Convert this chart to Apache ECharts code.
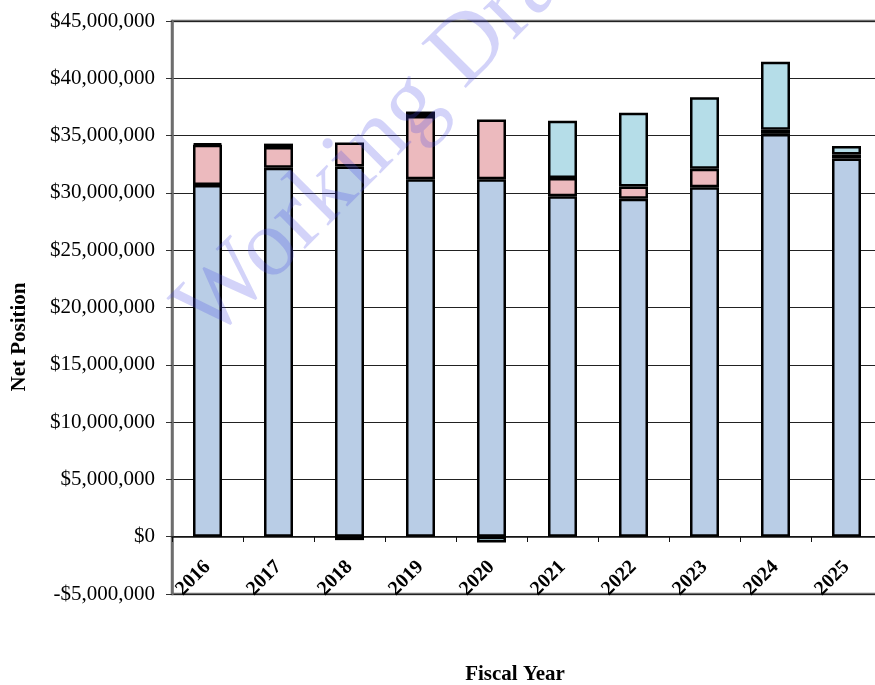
<!DOCTYPE html>
<html>
<head>
<meta charset="utf-8">
<title>Net Position by Fiscal Year</title>
<script src="https://cdn.jsdelivr.net/npm/echarts@6/dist/echarts.min.js"></script>
<style>
  html, body { margin: 0; padding: 0; background: #fff; }
  #chart { width: 875px; height: 685px; }
</style>
</head>
<body>
<div id="chart"></div>
<script>
// 数据
const years = ['2016', '2017', '2018', '2019', '2020', '2021', '2022', '2023', '2024', '2025'];
const capitalAssets = [30700000, 32200000, 32300000, 31200000, 31200000, 29700000, 29500000, 30500000, 35150000, 33000000];
const restricted    = [3500000, 1800000, 2100000, 5500000, 5200000, 1600000, 1050000, 1600000, 350000, 350000];
const unrestricted  = [100000, 300000, -300000, 400000, -500000, 5000000, 6450000, 6250000, 5950000, 750000];

const fontFamily = '"Liberation Serif", "Times New Roman", serif';

function money(v) {
    const s = Math.abs(v).toLocaleString('en-US');
    return v < 0 ? '-$' + s : '$' + s;
}

const chart = echarts.init(document.getElementById('chart'));

const segStyle = color => ({
    color: color,
    borderColor: '#000',
    borderWidth: 2.5
});

const titleStyle = {
    fontFamily: fontFamily,
    fontSize: 21,
    fontWeight: 'bold',
    fill: '#000',
    align: 'center',
    verticalAlign: 'middle'
};

const option = {
    animation: false,
    grid: {
        left: 172,
        top: 21,
        width: 710,
        height: 573,
        outerBoundsMode: 'none',
        show: true,
        borderColor: '#6e6e6e',
        borderWidth: 2.5,
        backgroundColor: 'transparent'
    },
    xAxis: {
        type: 'category',
        data: years,
        position: 'bottom',
        offset: -57,
        axisLine: { onZero: false, lineStyle: { color: '#111', width: 1.5 } },
        axisTick: { show: true, length: 5, lineStyle: { color: '#111' } },
        axisLabel: {
            rotate: 45,
            margin: 27,
            fontFamily: fontFamily,
            fontSize: 20,
            fontWeight: 'bold',
            color: '#000'
        }
    },
    yAxis: {
        type: 'value',
        min: -5000000,
        max: 45000000,
        interval: 5000000,
        axisLine: { show: true, lineStyle: { color: '#6e6e6e', width: 2.5 } },
        axisTick: { show: true, length: 6, lineStyle: { color: '#333' } },
        axisLabel: {
            margin: 17,
            fontFamily: fontFamily,
            fontSize: 21,
            color: '#000',
            formatter: money
        },
        splitLine: { show: true, lineStyle: { color: '#222', width: 1 } }
    },
    series: [
        {
            name: 'Net Investment in Capital Assets',
            type: 'bar',
            stack: 'net',
            barWidth: 29,
            itemStyle: segStyle('#b9cde6'),
            data: capitalAssets
        },
        {
            name: 'Restricted',
            type: 'bar',
            stack: 'net',
            barWidth: 29,
            itemStyle: segStyle('#ecbabe'),
            data: restricted
        },
        {
            name: 'Unrestricted',
            type: 'bar',
            stack: 'net',
            barWidth: 29,
            itemStyle: segStyle('#b5dde8'),
            data: unrestricted
        }
    ],
    graphic: [
        // 坐标轴标题
        { type: 'text', x: 20, y: 337, rotation: Math.PI / 2, silent: true,
          style: Object.assign({ text: 'Net Position' }, titleStyle) },
        { type: 'text', x: 515, y: 675, silent: true,
          style: Object.assign({ text: 'Fiscal Year' }, titleStyle) },
        // 水印
        {
            type: 'text',
            z: 100,
            x: 391,
            y: 127,
            rotation: Math.PI / 4,
            silent: true,
            style: {
                text: 'Working Draft',
                fontFamily: fontFamily,
                fontSize: 96,
                fill: 'rgba(70, 70, 230, 0.24)',
                align: 'center',
                verticalAlign: 'middle'
            }
        }
    ]
};

chart.setOption(option);
</script>
</body>
</html>
